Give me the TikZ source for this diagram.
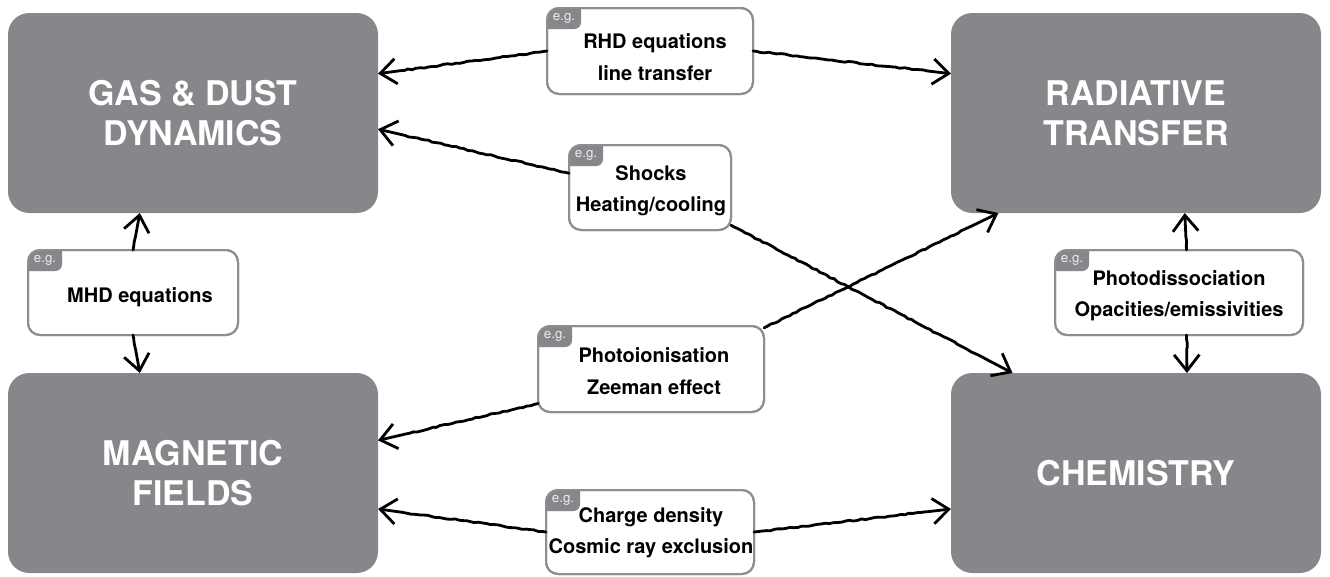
\documentclass[tikz,border=0pt]{standalone}
\usepackage{fontspec}
\setmainfont{TeX Gyre Heros}
\usetikzlibrary{arrows.meta,decorations.pathmorphing,calc}
\definecolor{boxgray}{HTML}{86878A}
\definecolor{edgegray}{HTML}{8E8E8E}
\newcommand\egtag[1]{%
  \begin{scope}
    \clip[rounded corners=9pt] (#1.north west) rectangle (#1.south east);
    \fill[boxgray, rounded corners=5pt] ($(#1.north west)+(-10,-10)$) rectangle ($(#1.north west)+(34,21)$);
  \end{scope}
  \draw[edgegray, line width=1.5pt, rounded corners=9pt] (#1.north west) rectangle (#1.south east);
  \node[egtext] (#1-eg) at ($(#1.north west)+(17,10)$) {e.g.};
}
\begin{document}
\begin{tikzpicture}[x=0.75pt,y=-0.75pt,
  big/.style={fill=boxgray, rounded corners=16pt, minimum width=277.5pt, minimum height=150pt,
    text=white, font=\fontsize{25.5}{30}\selectfont\bfseries, align=center, inner sep=0pt, outer sep=0pt},
  small/.style={draw=edgegray, line width=1.5pt, fill=white, rounded corners=9pt, inner sep=0pt, outer sep=0pt},
  smalltext/.style={font=\fontsize{15}{23.5}\selectfont\bfseries, align=center, inner sep=0pt},
  egtext/.style={text=white!85!boxgray, font=\fontsize{10}{12}\selectfont, inner sep=0pt},
  conn/.style={line width=2.1pt, line cap=round, line join=round, decorate,
    decoration={random steps, segment length=3pt, amplitude=0.5pt, pre length=3pt, post length=18pt},
    -{Straight Barb[length=12pt,width=19pt,line width=2.1pt]}}
]
\pgfmathsetseed{7}
\useasboundingbox (0,0) rectangle (1330,576);

% main boxes
\node[big] (gas)  at (193,113)  {GAS \& DUST\\DYNAMICS};
\node[big] (rt)   at (1136,113) {RADIATIVE\\TRANSFER};
\node[big] (mag)  at (193,473)  {MAGNETIC\\FIELDS};
\node[big] (chem) at (1136,473) {CHEMISTRY};

% example boxes
\node[small, minimum width=154.5pt, minimum height=64.5pt] (rhd) at (650,51) {};
\node[small, minimum width=121.5pt, minimum height=63.75pt] (shocks) at (650,187.5) {};
\node[small, minimum width=157.5pt, minimum height=63.75pt] (mhd) at (133,292.5) {};
\node[small, minimum width=169.5pt, minimum height=64.5pt] (photo) at (651,369) {};
\node[small, minimum width=186pt, minimum height=63.75pt] (pd) at (1179,292.5) {};
\node[small, minimum width=156pt, minimum height=63pt] (charge) at (650,532) {};

\node[smalltext] (rhd-t) at ($(rhd)+(5,6)$) {RHD equations\\line transfer};
\node[smalltext] (shocks-t) at ($(shocks)+(1,3)$) {Shocks\\Heating/cooling};
\node[smalltext] (mhd-t) at ($(mhd)+(7,5)$) {MHD equations};
\node[smalltext] (photo-t) at ($(photo)+(3,2)$) {Photoionisation\\Zeeman effect};
\node[smalltext] (pd-t) at ($(pd)+(0,3)$) {Photodissociation\\Opacities/emissivities};
\node[smalltext] (charge-t) at ($(charge)+(1,1)$) {Charge density\\Cosmic ray exclusion};

\egtag{rhd}
\egtag{shocks}
\egtag{mhd}
\egtag{photo}
\egtag{pd}
\egtag{charge}

% connectors
\draw[conn] (rhd.west) -- (gas.12);
\draw[conn] (rhd.east) -- (rt.168);
\draw[conn] (shocks.170) -- (gas.-5);
\draw[conn] (shocks.-25) -- (chem.141);
\draw[conn] (photo.-163) -- (mag.10);
\draw[conn] (photo.20) -- (rt.-144);
\draw[conn] (mhd.north) -- (gas.-118);
\draw[conn] (mhd.south) -- (mag.118);
\draw[conn] (pd.80) -- (rt.-64);
\draw[conn] (pd.-80) -- (chem.63);
\draw[conn] (charge.west) -- (mag.-11);
\draw[conn] (charge.east) -- (chem.191);
\end{tikzpicture}
\end{document}
